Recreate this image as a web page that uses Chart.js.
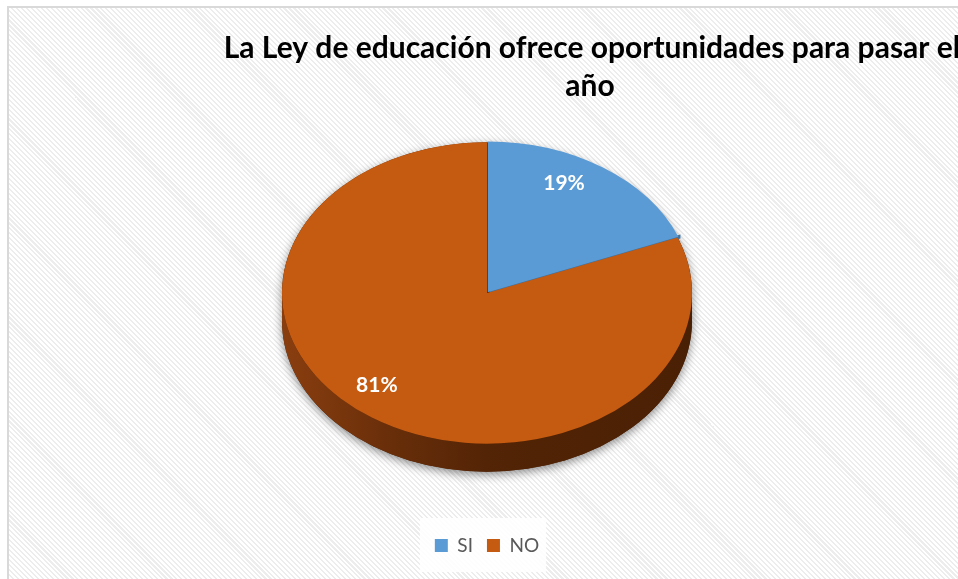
<!DOCTYPE html>
<html>
<head>
<meta charset="utf-8">
<script src="https://cdn.jsdelivr.net/npm/chart.js@4"></script>
<style>
  html, body { margin: 0; padding: 0; overflow: hidden; background: #fff; }
  #frame {
    position: absolute; left: 7px; top: 6px; width: 1000px; height: 600px;
    border-left: 2px solid #d9d9d9; border-top: 2px solid #d9d9d9;
    background: repeating-linear-gradient(45deg, #ffffff 0px, #ffffff 2px, #ededed 2px, #ededed 3.5px);
  }
  #wrap { position: absolute; left: 0; top: 0; width: 958px; height: 579px; }
</style>
</head>
<body>
<div id="frame"></div>
<div id="wrap"><canvas id="pieChart"></canvas></div>
<script>
// --- Data ---
const categories = ["SI", "NO"];
const values = [19, 81];
const sliceColors = ["#5B9BD5", "#C55A11"];
const titleLines = ["La Ley de educación ofrece oportunidades para pasar el", "año"];

// --- 3D look ---
const TILT = 0.735;   // vertical squash of the disc
const DEPTH = 28;     // thickness of the disc in px

const sliceShift = (arc) => {
  const off = arc.options.offset || 0;
  const mid = (arc.startAngle + arc.endAngle) / 2;
  return { ox: Math.cos(mid) * off, oy: Math.sin(mid) * off * TILT };
};

const pie3d = {
  id: "pie3d",
  beforeDraw(chart) {
    // faint white box behind the legend
    const boxes = chart.legend && chart.legend.legendHitBoxes;
    if (!boxes || !boxes.length) return;
    const ctx = chart.ctx;
    const minX = Math.min(...boxes.map((b) => b.left));
    const maxX = Math.max(...boxes.map((b) => b.left + b.width));
    const top = boxes[0].top;
    ctx.save();
    ctx.fillStyle = "rgba(255,255,255,0.85)";
    ctx.fillRect(minX - 15, top - 18, maxX - minX + 22, boxes[0].height + 35);
    ctx.restore();
  },
  beforeDatasetsDraw(chart) {
    const ctx = chart.ctx;
    const arcs = chart.getDatasetMeta(0).data;
    const { x: cx, y: cy, outerRadius: r } = arcs[0];

    // soft shadow under the whole disc
    ctx.save();
    ctx.shadowColor = "rgba(0,0,0,0.45)";
    ctx.shadowBlur = 10;
    ctx.shadowOffsetY = 3;
    ctx.fillStyle = "#4a2004";
    ctx.beginPath();
    ctx.ellipse(cx, cy, r, r * TILT, 0, Math.PI, 2 * Math.PI);
    ctx.ellipse(cx, cy + DEPTH, r, r * TILT, 0, 0, Math.PI);
    ctx.closePath();
    ctx.fill();
    ctx.restore();

    // side walls (front half of rim only)
    arcs.forEach((arc, i) => {
      const { ox, oy } = sliceShift(arc);
      const x0 = cx + ox, y0 = cy + oy;
      let fill;
      if (i === 1) {
        fill = ctx.createLinearGradient(x0 - r, 0, x0 + r, 0);
        fill.addColorStop(0, "#8a3e0f");
        fill.addColorStop(0.25, "#6a2f0a");
        fill.addColorStop(0.5, "#532406");
        fill.addColorStop(1, "#4a2004");
      } else {
        fill = "#3f6f9c";
      }
      [0, 2 * Math.PI].forEach((base) => {
        const a1 = Math.max(arc.startAngle, base);
        const a2 = Math.min(arc.endAngle, base + Math.PI);
        if (a2 <= a1) return;
        ctx.save();
        ctx.fillStyle = fill;
        ctx.beginPath();
        ctx.ellipse(x0, y0, r, r * TILT, 0, a1, a2);
        ctx.ellipse(x0, y0 + DEPTH, r, r * TILT, 0, a2, a1, true);
        ctx.closePath();
        ctx.fill();
        ctx.restore();
      });
      // thin cut face under an exploded slice
      if ((arc.options.offset || 0) > 0) {
        const ex = x0 + Math.cos(arc.endAngle) * r;
        const ey = y0 + Math.sin(arc.endAngle) * r * TILT;
        ctx.save();
        ctx.fillStyle = "#41719c";
        ctx.beginPath();
        ctx.moveTo(x0, y0);
        ctx.lineTo(ex, ey);
        ctx.lineTo(ex, ey + 4);
        ctx.lineTo(x0, y0 + 4);
        ctx.closePath();
        ctx.fill();
        ctx.restore();
      }
    });

    // squash the top faces into an ellipse
    ctx.save();
    ctx.translate(cx, cy);
    ctx.scale(1, TILT);
    ctx.translate(-cx, -cy);
  },
  afterDatasetsDraw(chart) {
    const ctx = chart.ctx;
    ctx.restore();

    // percentage labels (nudged a little up-left, as the perspective in the original does)
    const arcs = chart.getDatasetMeta(0).data;
    const total = values.reduce((a, b) => a + b, 0);
    ctx.save();
    ctx.font = "bold 21px Lato";
    ctx.fillStyle = "#ffffff";
    ctx.textAlign = "center";
    ctx.textBaseline = "middle";
    arcs.forEach((arc, i) => {
      const { ox, oy } = sliceShift(arc);
      const mid = (arc.startAngle + arc.endAngle) / 2;
      const k = 0.8;
      const x = arc.x + ox + Math.cos(mid) * arc.outerRadius * k - 18;
      const y = arc.y + oy + Math.sin(mid) * arc.outerRadius * k * TILT - 7;
      ctx.fillText(Math.round((values[i] / total) * 100) + "%", x, y);
    });
    ctx.restore();
  },
  afterDraw(chart) {
    // title, centred off to the right like the original
    const ctx = chart.ctx;
    ctx.save();
    ctx.font = "bold 30px Lato";
    ctx.fillStyle = "#000000";
    ctx.textAlign = "center";
    ctx.textBaseline = "alphabetic";
    ctx.fillText(titleLines[0], 592, 58);
    ctx.fillText(titleLines[1], 590, 96);
    ctx.restore();
  },
};

const ctx = document.getElementById("pieChart").getContext("2d");
new Chart(ctx, {
  type: "pie",
  data: {
    labels: categories,
    datasets: [
      {
        data: values,
        backgroundColor: sliceColors,
        borderWidth: 0,
        offset: [5, 0],
        clip: false,
      },
    ],
  },
  options: {
    responsive: true,
    maintainAspectRatio: false,
    animation: false,
    radius: 205,
    layout: { padding: { left: 16, right: 0, top: 64, bottom: 14 } },
    plugins: {
      title: { display: false },
      tooltip: { enabled: false },
      legend: {
        position: "bottom",
        labels: {
          boxWidth: 13,
          boxHeight: 13,
          padding: 14,
          color: "#595959",
          font: { family: "Lato", size: 19 },
        },
      },
    },
  },
  plugins: [pie3d],
});
</script>
</body>
</html>
